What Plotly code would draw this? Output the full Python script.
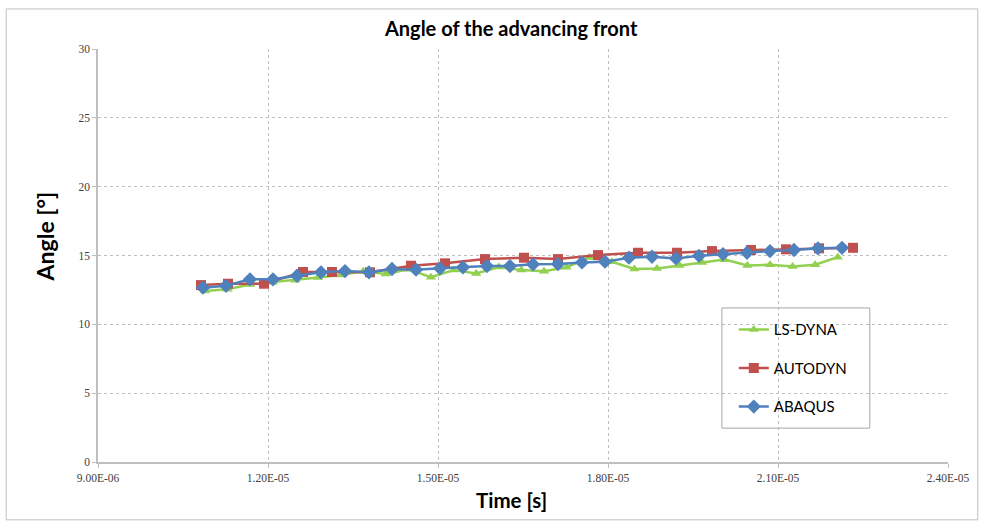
import plotly.graph_objects as go

# Time [s]
ls_dyna_t = [1.0888e-05, 1.1287e-05, 1.1686e-05, 1.2085e-05, 1.2484e-05, 1.2882e-05, 1.3281e-05,
             1.3680e-05, 1.4079e-05, 1.4478e-05, 1.4876e-05, 1.5275e-05, 1.5674e-05, 1.6073e-05,
             1.6472e-05, 1.6871e-05, 1.7269e-05, 1.7668e-05, 1.8067e-05, 1.8466e-05, 1.8865e-05,
             1.9264e-05, 1.9662e-05, 2.0061e-05, 2.0460e-05, 2.0859e-05, 2.1258e-05, 2.1656e-05,
             2.2055e-05]
ls_dyna_a = [12.42, 12.55, 12.9, 13.05, 13.2, 13.4, 13.58, 13.85, 13.65, 14.0, 13.42, 13.94, 13.7,
             14.17, 13.95, 13.85, 14.15, 14.85, 14.55, 14.02, 14.05, 14.28, 14.5, 14.7, 14.28,
             14.32, 14.2, 14.33, 14.88]

autodyn_t = [1.0818e-05, 1.1294e-05, 1.1929e-05, 1.2618e-05, 1.3129e-05, 1.3800e-05, 1.4524e-05,
             1.5124e-05, 1.5829e-05, 1.6518e-05, 1.7118e-05, 1.7824e-05, 1.8529e-05, 1.9218e-05,
             1.9835e-05, 2.0524e-05, 2.1141e-05, 2.1724e-05, 2.2324e-05]
autodyn_a = [12.85, 12.95, 12.95, 13.8, 13.8, 13.78, 14.26, 14.43, 14.74, 14.84, 14.74, 15.03,
             15.2, 15.2, 15.32, 15.4, 15.45, 15.52, 15.56]

abaqus_t = [1.0853e-05, 1.1259e-05, 1.1682e-05, 1.2088e-05, 1.2512e-05, 1.2935e-05, 1.3359e-05,
            1.3782e-05, 1.4188e-05, 1.4612e-05, 1.5035e-05, 1.5441e-05, 1.5864e-05, 1.6270e-05,
            1.6676e-05, 1.7117e-05, 1.7541e-05, 1.7947e-05, 1.8370e-05, 1.8776e-05, 1.9200e-05,
            1.9606e-05, 2.0029e-05, 2.0453e-05, 2.0859e-05, 2.1282e-05, 2.1706e-05, 2.2129e-05]
abaqus_a = [12.66, 12.8, 13.27, 13.27, 13.53, 13.78, 13.87, 13.78, 14.02, 13.97, 14.07, 14.14,
            14.23, 14.23, 14.36, 14.38, 14.5, 14.55, 14.84, 14.91, 14.79, 14.98, 15.1, 15.2,
            15.32, 15.4, 15.52, 15.56]

x_tickvals = [9e-06, 1.2e-05, 1.5e-05, 1.8e-05, 2.1e-05, 2.4e-05]
x_ticktext = ["9.00E-06", "1.20E-05", "1.50E-05", "1.80E-05", "2.10E-05", "2.40E-05"]
y_tickvals = [0, 5, 10, 15, 20, 25, 30]

fig = go.Figure()
fig.add_trace(go.Scatter(x=ls_dyna_t, y=ls_dyna_a, name="LS-DYNA", mode="lines+markers",
                         line=dict(color="#92D050", width=2.5),
                         marker=dict(symbol="triangle-up", size=9, color="#92D050"),
                         legendgroup="a"))
fig.add_trace(go.Scatter(x=autodyn_t, y=autodyn_a, name="AUTODYN", mode="lines+markers",
                         line=dict(color="#C0504D", width=2.5),
                         marker=dict(symbol="square", size=10, color="#C0504D"),
                         legendgroup="b"))
fig.add_trace(go.Scatter(x=abaqus_t, y=abaqus_a, name="ABAQUS", mode="lines+markers",
                         line=dict(color="#4F81BD", width=2.5),
                         marker=dict(symbol="diamond", size=11, color="#4F81BD"),
                         legendgroup="c"))

fig.update_layout(
    width=983, height=524,
    margin=dict(l=98, r=35, t=49, b=62),
    paper_bgcolor="white", plot_bgcolor="white",
    font=dict(family="Lato, 'Open Sans', sans-serif", color="#000000"),
    title=dict(text="<b>Angle of the advancing front</b>", x=0.52, xanchor="center",
               y=0.945, yanchor="middle", font=dict(size=20, family="Lato, sans-serif")),
    showlegend=True,
    legend=dict(x=0.748, y=0.36, xanchor="left", yanchor="top",
                bgcolor="rgba(0,0,0,0)", borderwidth=0,
                font=dict(size=15, family="Lato, sans-serif"),
                tracegroupgap=16),
    shapes=[
        dict(type="rect", xref="paper", yref="paper", x0=0.734, x1=0.908, y0=0.082, y1=0.373,
             line=dict(color="#A6A6A6", width=1), fillcolor="rgba(255,255,255,0)", layer="above"),
        dict(type="rect", xref="paper", yref="paper", x0=-0.108, x1=1.035, y0=-0.14, y1=1.097,
             line=dict(color="#BFBFBF", width=1), fillcolor="rgba(255,255,255,0)", layer="below"),
    ],
    annotations=[
        dict(text="<b>Time [s]</b>", xref="paper", yref="paper", x=0.487, y=-0.093,
             xanchor="center", yanchor="middle", showarrow=False,
             font=dict(size=20.5, family="Lato, sans-serif")),
        dict(text="<b>Angle [°]</b>", xref="paper", yref="paper", x=-0.062, y=0.547,
             xanchor="center", yanchor="middle", showarrow=False, textangle=-90,
             font=dict(size=23, family="Lato, sans-serif")),
    ],
)
fig.update_xaxes(
    range=[9e-06, 2.4e-05], tickvals=x_tickvals, ticktext=x_ticktext,
    showgrid=True, gridcolor="#BFBFBF", griddash="dot", gridwidth=1,
    showline=True, linecolor="#BFBFBF", linewidth=1.5,
    ticks="outside", ticklen=4, tickcolor="#BFBFBF",
    tickfont=dict(size=11.5, family="Liberation Serif", color="#404040"),
    zeroline=False,
)
fig.update_yaxes(
    range=[0, 30], tickvals=y_tickvals,
    showgrid=True, gridcolor="#BFBFBF", griddash="dot", gridwidth=1,
    showline=True, linecolor="#BFBFBF", linewidth=1.5,
    ticks="outside", ticklen=4, tickcolor="#BFBFBF",
    tickfont=dict(size=11.5, family="Liberation Serif", color="#404040"),
    zeroline=False,
)

fig.write_html("out.html", config={"displayModeBar": False},
               post_script="document.body.style.margin='0';")
